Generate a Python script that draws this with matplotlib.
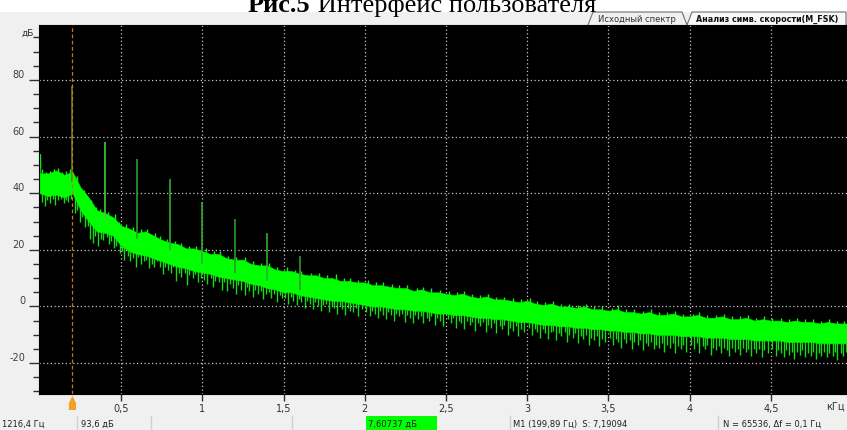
"""
Спектр сигнала: окно анализа символьной скорости
"""
import matplotlib
matplotlib.use('Agg')
import matplotlib.pyplot as plt
from matplotlib.patches import Polygon, Rectangle
from matplotlib.transforms import blended_transform_factory, ScaledTranslation

W, H = 847, 430

# частотная сетка огибающей, кГц
freq_khz = [0.00, 0.05, 0.10, 0.15, 0.20, 0.25, 0.30, 0.35, 0.40, 0.45,
            0.50, 0.55, 0.60, 0.65, 0.70, 0.75, 0.80, 0.85, 0.90, 0.95,
            1.00, 1.05, 1.10, 1.15, 1.20, 1.25, 1.30, 1.35, 1.40, 1.45,
            1.50, 1.55, 1.60, 1.65, 1.70, 1.75, 1.80, 1.85, 1.90, 1.95,
            2.00, 2.05, 2.10, 2.15, 2.20, 2.25, 2.30, 2.35, 2.40, 2.45,
            2.50, 2.55, 2.60, 2.65, 2.70, 2.75, 2.80, 2.85, 2.90, 2.95,
            3.00, 3.05, 3.10, 3.15, 3.20, 3.25, 3.30, 3.35, 3.40, 3.45,
            3.50, 3.55, 3.60, 3.65, 3.70, 3.75, 3.80, 3.85, 3.90, 3.95,
            4.00, 4.05, 4.10, 4.15, 4.20, 4.25, 4.30, 4.35, 4.40, 4.45,
            4.50, 4.55, 4.60, 4.65, 4.70, 4.75, 4.80, 4.85, 4.90, 4.95, 4.97]

# верхняя граница шумовой полосы, дБ
upper_db = [47, 47, 48, 46.5, 47.5, 42, 38.5, 34, 33, 31.5,
            28.5, 27.5, 26, 26.5, 25, 23.5, 22.5, 22, 20.5, 20.5,
            19.5, 18.5, 18.5, 17, 16.5, 16.5, 15, 14.5, 14.5, 13,
            12.5, 12.5, 11.5, 11, 11, 10, 10, 9, 9, 8.5,
            8.5, 7.5, 7.5, 7, 6.5, 6.5, 5.5, 6, 5, 5,
            4.5, 4, 4.5, 3.5, 3, 3.5, 2.5, 2.5, 2, 1.5,
            2, 1, 0.5, 1, 0, 0, -0.5, 0, -1, -1,
            -1.5, -1, -2, -2, -2.5, -2, -3, -3, -2.5, -3.5,
            -3.5, -3, -4, -4, -3.5, -4.5, -4.5, -4, -5, -4.5,
            -5, -5, -5.5, -5, -5.5, -5.5, -6, -5.5, -6, -6, -6]

# нижняя граница сплошной полосы, дБ
lower_db = [40, 39, 39.5, 38.5, 40, 34, 30, 26.5, 26, 25,
            21.5, 19.5, 18.5, 18, 17, 16, 15, 14, 13.5, 12.5,
            12, 11.5, 10.5, 10, 9.5, 9, 8, 7.5, 6.5, 6,
            5, 5, 4, 3.5, 3, 2.5, 2, 2, 1.5, 1,
            0.5, 0, 0, -0.5, -1, -1, -1.5, -1.5, -2, -2.5,
            -2.5, -3, -3, -3.5, -4, -4, -4.5, -4.5, -5, -5.5,
            -5.5, -6, -6.5, -6.5, -7, -7, -7.5, -7.5, -8, -8,
            -8.5, -8.5, -9, -9, -9.5, -9.5, -10, -10, -10, -10.5,
            -10.5, -10.5, -11, -11, -11, -11.5, -11.5, -11.5, -12, -12,
            -12, -12, -12.5, -12.5, -12.5, -12.5, -13, -13, -13, -13, -13]

# провалы шума вниз: частота, кГц / нижняя точка, дБ
dip_khz = [0.01, 0.03, 0.045, 0.06, 0.08, 0.095, 0.11, 0.13, 0.145, 0.16, 0.175, 0.19,
           0.215, 0.23, 0.245, 0.26, 0.28, 0.295, 0.31, 0.325, 0.34, 0.36, 0.375, 0.39,
           0.41, 0.425, 0.44, 0.455, 0.47, 0.49,
           0.505, 0.52, 0.54, 0.555, 0.57, 0.59, 0.605, 0.62, 0.64, 0.655,
           0.67, 0.69, 0.705, 0.72, 0.74, 0.755, 0.77, 0.79, 0.805, 0.82,
           0.84, 0.855, 0.87, 0.89, 0.905, 0.92, 0.94, 0.955, 0.97, 0.99,
           1.01, 1.03, 1.05, 1.065, 1.08, 1.10, 1.12, 1.135, 1.15, 1.17,
           1.19, 1.205, 1.22, 1.24, 1.26, 1.275, 1.29, 1.31, 1.325, 1.34,
           1.36, 1.375, 1.39, 1.41, 1.425, 1.44, 1.46, 1.475, 1.49,
           1.51, 1.53, 1.545, 1.56, 1.58, 1.595, 1.61, 1.63, 1.645, 1.66,
           1.68, 1.695, 1.71, 1.73, 1.745, 1.76, 1.78, 1.795, 1.81, 1.83,
           1.845, 1.86, 1.88, 1.895, 1.91, 1.93, 1.945, 1.96, 1.98,
           2.01, 2.03, 2.045, 2.06, 2.08, 2.095, 2.11, 2.13, 2.145, 2.16,
           2.18, 2.195, 2.21, 2.23, 2.245, 2.26, 2.28, 2.295, 2.31, 2.33,
           2.345, 2.36, 2.38, 2.395, 2.41, 2.43, 2.445, 2.46, 2.48,
           2.51, 2.53, 2.545, 2.56, 2.58, 2.595, 2.61, 2.63, 2.645, 2.66,
           2.68, 2.695, 2.71, 2.73, 2.745, 2.76, 2.78, 2.795, 2.81, 2.83,
           2.845, 2.86, 2.88, 2.895, 2.91, 2.93, 2.945, 2.96, 2.98,
           3.01, 3.03, 3.045, 3.06, 3.08, 3.095, 3.11, 3.13, 3.145, 3.16,
           3.18, 3.195, 3.21, 3.23, 3.245, 3.26, 3.28, 3.295, 3.31, 3.33,
           3.345, 3.36, 3.38, 3.395, 3.41, 3.43, 3.445, 3.46, 3.48,
           3.51, 3.53, 3.545, 3.56, 3.58, 3.595, 3.61, 3.63, 3.645, 3.66,
           3.68, 3.695, 3.71, 3.73, 3.745, 3.76, 3.78, 3.795, 3.81, 3.83,
           3.845, 3.86, 3.88, 3.895, 3.91, 3.93, 3.945, 3.96, 3.98,
           4.01, 4.03, 4.045, 4.06, 4.08, 4.095, 4.11, 4.13, 4.145, 4.16,
           4.18, 4.195, 4.21, 4.23, 4.245, 4.26, 4.28, 4.295, 4.31, 4.33,
           4.345, 4.36, 4.38, 4.395, 4.41, 4.43, 4.445, 4.46, 4.48,
           4.51, 4.53, 4.545, 4.56, 4.58, 4.595, 4.61, 4.63, 4.645, 4.66,
           4.68, 4.695, 4.71, 4.73, 4.745, 4.76, 4.78, 4.795, 4.81, 4.83,
           4.845, 4.86, 4.88, 4.895, 4.91, 4.93, 4.945, 4.96]
dip_db = [37, 35.5, 37.5, 36.5, 38, 36, 37.5, 38, 36.5, 37.5, 37, 38,
          33, 34, 30, 31.5, 28, 28.5, 24, 22.5, 25, 21.5, 24, 23.5,
          24.5, 22, 23, 20.5, 21.5, 19,
          19.5, 16.5, 18, 16, 17, 14, 17.5, 15, 16, 16.5,
          13.5, 15, 14, 16, 14, 11.5, 14, 13, 12, 14,
          9, 12, 10.5, 12, 7.5, 11, 10, 11.5, 8.5, 10,
          9.5, 8, 10, 7, 9, 8.5, 6, 8.5, 5.5, 8,
          6.5, 4.5, 7.5, 6, 4, 7, 5.5, 3.5, 6, 4.5,
          5.5, 2.5, 4.5, 5, 3, 4.5, 1.5, 4, 3,
          3, 1, 3.5, 2, 0.5, 2.5, 1.5, -0.5, 2, 1,
          -1, 1.5, 0, -1.5, 0.5, 1, -2, 0, -0.5, -2.5,
          0, -1, -3, -0.5, -1.5, -2, -0.5, -3.5, -1,
          -2, -3.5, -1.5, -2.5, -4, -1.5, -3, -4.5, -2, -3,
          -5, -2.5, -3.5, -2.5, -5.5, -3, -4, -6, -3, -4.5,
          -3.5, -6, -4, -5, -3.5, -6.5, -4, -5, -7,
          -4.5, -6, -4, -7.5, -5, -6, -8, -5, -6.5, -5.5,
          -8.5, -6, -7, -5.5, -9, -6.5, -7.5, -6, -9.5, -7,
          -8, -6.5, -10, -7.5, -8.5, -7, -10.5, -8, -9,
          -7.5, -10, -8, -9, -11, -8, -9.5, -11.5, -9, -8.5,
          -12, -9.5, -10.5, -9, -12.5, -10, -11, -9.5, -13, -10.5,
          -11.5, -10, -13.5, -11, -12, -10.5, -14, -11.5, -12.5,
          -11, -13.5, -11.5, -12.5, -14.5, -11.5, -13, -12, -15, -12.5,
          -13.5, -12, -15.5, -13, -14, -12.5, -15, -13.5, -14.5, -13,
          -16, -13.5, -14.5, -13, -16.5, -14, -15, -13.5, -16,
          -13.5, -15, -13, -16.5, -14, -15, -13.5, -17, -14.5, -15.5,
          -14, -16.5, -14.5, -15.5, -17.5, -14.5, -16, -15, -17, -14.5,
          -16, -15, -17.5, -15, -16.5, -15, -18, -15.5, -16.5,
          -15, -17.5, -15.5, -16.5, -18, -15.5, -17, -16, -18.5, -16,
          -17, -15.5, -18, -16.5, -17.5, -16, -18.5, -16.5, -17.5, -16,
          -18, -16.5, -17.5, -16, -19, -16.5, -17.5, -16]

# выбросы шума вверх: частота, кГц / верхняя точка, дБ
top_khz = [0.003, 0.015, 0.035, 0.06, 0.085, 0.11, 0.135, 0.16, 0.185,
           0.225, 0.27, 0.315, 0.345, 0.37, 0.42, 0.46, 0.485,
           0.53, 0.57, 0.62, 0.66, 0.71, 0.74, 0.78, 0.83, 0.87, 0.92, 0.96,
           1.02, 1.07, 1.11, 1.16, 1.21, 1.26, 1.31, 1.36, 1.41, 1.46,
           1.52, 1.57, 1.61, 1.67, 1.72, 1.77, 1.82, 1.87, 1.91, 1.96,
           2.02, 2.07, 2.11, 2.17, 2.21, 2.26, 2.32, 2.36, 2.41, 2.46,
           2.52, 2.57, 2.61, 2.66, 2.71, 2.76, 2.81, 2.86, 2.91, 2.96,
           3.02, 3.06, 3.11, 3.16, 3.21, 3.26, 3.31, 3.36, 3.41, 3.46,
           3.52, 3.56, 3.61, 3.66, 3.71, 3.76, 3.81, 3.86, 3.91, 3.96,
           4.02, 4.06, 4.11, 4.16, 4.21, 4.26, 4.31, 4.36, 4.41, 4.46,
           4.51, 4.56, 4.61, 4.66, 4.71, 4.76, 4.81, 4.86, 4.91, 4.95]
top_db = [54, 48.5, 47.5, 48, 48.5, 49, 47.5, 48, 48.5,
          46, 41, 37.5, 35, 34.5, 33.5, 32.5, 30,
          29, 28, 27.5, 27.5, 26, 25, 24, 23, 22.5, 21.5, 21.5,
          20.5, 19.5, 19.5, 18, 17.5, 17.5, 16, 15.5, 15.5, 14,
          14, 13, 12.5, 12, 12, 11, 11.5, 10, 10, 9.5,
          9.5, 8.5, 8.5, 8, 7.5, 7.5, 6.5, 7, 6.5, 6,
          5.5, 5, 5.5, 4.5, 4, 4.5, 3.5, 3.5, 3, 2.5,
          3, 2, 1.5, 2, 1, 1, 0.5, 1, 0, 0,
          -0.5, 0.5, -1, -1, -1.5, -1, -2, -2, -1.5, -2.5,
          -2.5, -2, -3, -3, -2.5, -3.5, -3.5, -3, -4, -3.5,
          -4, -4, -4.5, -4, -4.5, -4.5, -5, -4.5, -5, -5]

# гармоники FSK
harm_khz = [0.2, 0.4, 0.6, 0.8, 1.0, 1.2, 1.4, 1.6]
harm_db = [78, 58, 52, 45, 37, 31, 26, 18]
harm_base = [44, 30, 24, 20, 15, 12, 9, 6]
harm_colors = ['#5c7f22', '#3fcf3f', '#2c9a2c', '#2fae2f',
               '#2fae2f', '#2c9a2c', '#2fae2f', '#2c9a2c']

marker_khz = 0.19989

x_ticks = [0.5, 1, 1.5, 2, 2.5, 3, 3.5, 4, 4.5]
x_labels = ['0,5', '1', '1,5', '2', '2,5', '3', '3,5', '4', '4,5']
y_ticks = [-20, 0, 20, 40, 60, 80]

status = [(2, '1216,4 Гц'), (81, '93,6 дБ'), (368, '7,60737 дБ'),
          (513, 'M1 (199,89 Гц)  S: 7,19094'), (723, 'N = 65536, Δf = 0,1 Гц')]


def fx(px):
    return px / W


def fy(py):
    return 1 - py / H


fig = plt.figure(figsize=(W / 100, H / 100), dpi=100)
fig.patch.set_facecolor('white')
ui = 'DejaVu Sans'

# серая панель окна
fig.patches.append(Rectangle((0, 0), 1, fy(12), transform=fig.transFigure,
                             facecolor='#f0f0f0', edgecolor='none', zorder=-5))

ax = fig.add_axes([fx(39), fy(394), fx(847 - 39), fy(25) - fy(394)])
ax.set_zorder(2)
ax.set_facecolor('black')
ax.set_xlim(-0.006, 4.969)
ax.set_ylim(-30.9, 99.4)

ax.set_xticks(x_ticks)
ax.set_xticklabels(x_labels)
ax.set_yticks(y_ticks)
ax.set_yticks(range(-30, 100, 5), minor=True)
ax.set_yticklabels([])
ax.tick_params(axis='x', direction='out', length=5, width=1, color='#303030',
               labelsize=7, labelcolor='#303030', pad=2)
ax.tick_params(axis='y', which='major', direction='out', length=7, width=1,
               color='#303030')
ax.tick_params(axis='y', which='minor', direction='out', length=4, width=1,
               color='#303030')
ax.grid(True, which='major', color='#c8c8c8', linestyle=(0, (1, 2)),
        linewidth=0.9)
for s in ax.spines.values():
    s.set_color('black')

# подписи оси Y чуть выше рисок
ytrans = ax.get_yaxis_transform() + ScaledTranslation(-0.14, 0.05, fig.dpi_scale_trans)
for v in y_ticks:
    ax.text(0, v, str(v), transform=ytrans, ha='right', va='center',
            fontsize=7, color='#404040', family=ui, clip_on=False)

# шумовая полоса: провалы и выбросы рисуются под заливкой
ax.vlines(dip_khz, dip_db, [d + 7 for d in dip_db], color='#14dc14',
          linewidth=1.0, zorder=2)
ax.vlines(top_khz, [t - 5 for t in top_db], top_db, color='#00ff00',
          linewidth=1.0, zorder=2)
ax.vlines(top_khz[0], 40, top_db[0], color='#00ff00', linewidth=1.2, zorder=2)
ax.fill_between(freq_khz, lower_db, upper_db, color='#00ff00', linewidth=0.5,
                edgecolor='#00f000', zorder=3)

# гармоники
ax.vlines(harm_khz, harm_base, harm_db, colors=harm_colors, linewidth=1.2, zorder=4)

# маркер M1
ax.axvline(marker_khz, color='#c8741e', linestyle=(0, (3, 2)), linewidth=0.9, zorder=5)
mtrans = blended_transform_factory(ax.transData, fig.transFigure)
ax.add_patch(Polygon([(marker_khz, fy(396)), (marker_khz + 0.022, fy(403)),
                      (marker_khz + 0.022, fy(410)), (marker_khz - 0.022, fy(410)),
                      (marker_khz - 0.022, fy(403))],
                     closed=True, transform=mtrans, facecolor='#f4a028',
                     edgecolor='none', clip_on=False))

fig.text(fx(21), fy(33), 'дБ', fontsize=6.5, color='#303030', family=ui,
         ha='left', va='center')
fig.text(fx(826), fy(407), 'кГц', fontsize=7, color='#303030', family=ui,
         ha='left', va='center')

# вкладки
tab1 = Polygon([(fx(588), fy(25)), (fx(593), fy(12)), (fx(682), fy(12)), (fx(687), fy(25))],
               closed=False, transform=fig.transFigure, facecolor='#f0f0f0',
               edgecolor='#707070', linewidth=0.8)
tab2 = Polygon([(fx(687), fy(25)), (fx(692), fy(12)), (fx(846), fy(12)), (fx(846), fy(25))],
               closed=False, transform=fig.transFigure, facecolor='#f8f8f8',
               edgecolor='#707070', linewidth=0.8)
fig.patches.extend([tab1, tab2])
fig.text(fx(637), fy(19), 'Исходный спектр', fontsize=6, color='#303030',
         family=ui, ha='center', va='center')
fig.text(fx(696), fy(19), 'Анализ симв. скорости(M_FSK)', fontsize=5.8,
         color='#101010', family=ui, ha='left', va='center', weight='bold')

# строка состояния
for x in [77, 151, 292, 510, 718]:
    fig.lines.append(plt.Line2D([fx(x), fx(x)], [fy(416), fy(430)],
                                transform=fig.transFigure, color='#d0d0d0', linewidth=1))
fig.patches.append(Rectangle((fx(366), fy(430)), fx(437) - fx(366), fy(416) - fy(430),
                             transform=fig.transFigure, facecolor='#00ff00',
                             edgecolor='none'))
for x, t in status:
    fig.text(fx(x), fy(424), t, fontsize=6, color='#202020', family=ui,
             ha='left', va='center')

# подпись рисунка
head = fig.text(fx(248), fy(12), 'Рис.5', fontsize=19, family='Liberation Serif',
                weight='bold', ha='left', va='baseline')
fig.canvas.draw()
bb = head.get_window_extent()
fig.text(bb.x1 / W, fy(12), ' Интерфейс пользователя', fontsize=19,
         family='Liberation Serif', ha='left', va='baseline')

fig.savefig('out.png', dpi=100, facecolor='white')
